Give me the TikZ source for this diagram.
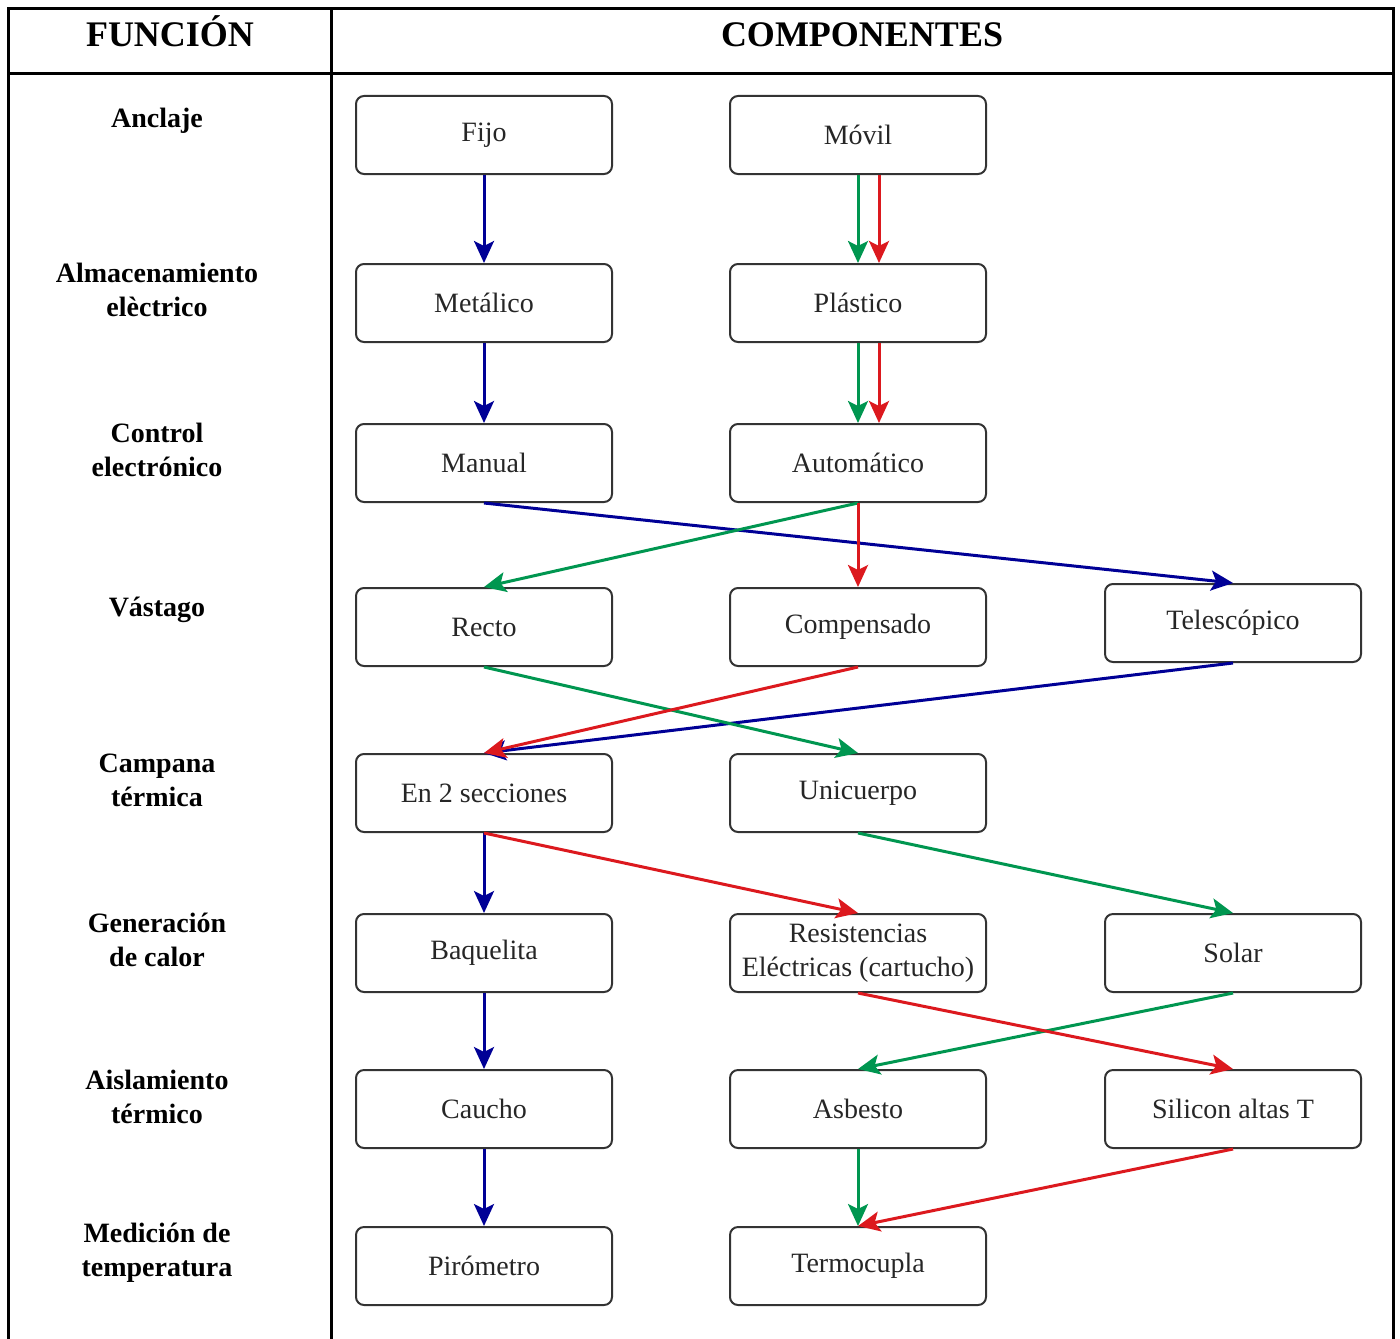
\documentclass[tikz,border=0pt]{standalone}
\usepackage{fontspec}
\setmainfont{Liberation Serif}
\usetikzlibrary{arrows.meta}
\definecolor{azul}{RGB}{0,0,150}
\definecolor{verde}{RGB}{0,150,80}
\definecolor{rojo}{RGB}{220,25,30}
\tikzset{
  comp/.style={draw=black!80, line width=1pt, rounded corners=4pt,
    minimum width=128pt, minimum height=39pt, inner sep=0pt, align=center,
    font=\fontsize{14}{17}\selectfont, text=black!85},
  func/.style={align=center, font=\bfseries\fontsize{14}{17}\selectfont},
  titulo/.style={anchor=base, font=\bfseries\fontsize{18}{20}\selectfont},
  flecha/.style={line width=1.5pt, -{Stealth[length=11pt,width=10pt,inset=2.5pt]}},
}

\begin{document}
\begin{tikzpicture}[x=0.5pt, y=-0.5pt]
            \useasboundingbox (0,0) rectangle (1400,1338);
            % tabla
            \draw[line width=1.5pt] (8,1345) -- (8,9) -- (1393,9) -- (1393,1345);
            \draw[line width=1.5pt] (8,74) -- (1393,74);
            \draw[line width=1.5pt] (331,9) -- (331,1345);
            \node[titulo] (tfun) at (170,47) {FUNCIÓN};
            \node[titulo] (tcomp) at (862,47) {COMPONENTES};

            \foreach \y/\t [count=\i] in {121/Anclaje, 290/{Almacenamiento\\elèctrico},
                    450/{Control\\electrónico}, 610/Vástago, 780/{Campana\\térmica},
                    940/{Generación\\de calor}, 1097/{Aislamiento\\térmico},
                    1253/{Medición de\\temperatura}} {
                    \node[func] (f\i) at (157,\y) {\t};
                }

            % componentes
            \node[comp] (fijo) at (484,135) {Fijo};
            \node[comp] (movil) at (858,135) {Móvil};
            \node[comp] (metalico) at (484,303) {Metálico};
            \node[comp] (plastico) at (858,303) {Plástico};
            \node[comp] (manual) at (484,463) {Manual};
            \node[comp] (auto) at (858,463) {Automático};
            \node[comp] (recto) at (484,627) {Recto};
            \node[comp] (compensado) at (858,627) {Compensado};
            \node[comp] (telescopico) at (1233,623) {Telescópico};
            \node[comp] (dossec) at (484,793) {En 2 secciones};
            \node[comp] (unicuerpo) at (858,793) {Unicuerpo};
            \node[comp] (baquelita) at (484,953) {Baquelita};
            \node[comp] (resistencias) at (858,953) {Resistencias\\Eléctricas (cartucho)};
            \node[comp] (solar) at (1233,953) {Solar};
            \node[comp] (caucho) at (484,1109) {Caucho};
            \node[comp] (asbesto) at (858,1109) {Asbesto};
            \node[comp] (silicon) at (1233,1109) {Silicon altas T};
            \node[comp] (pirometro) at (484,1266) {Pirómetro};
            \node[comp] (termocupla) at (858,1266) {Termocupla};

            % azul
            \draw[flecha, azul] (fijo.south) -- (metalico.north);
            \draw[flecha, azul] (metalico.south) -- (manual.north);
            \draw[flecha, azul] (manual.south) -- (telescopico.north);
            \draw[flecha, azul] (telescopico.south) -- (dossec.north);
            \draw[flecha, azul] (dossec.south) -- (baquelita.north);
            \draw[flecha, azul] (baquelita.south) -- (caucho.north);
            \draw[flecha, azul] (caucho.south) -- (pirometro.north);
            % verde
            \draw[flecha, verde] (movil.south) -- (plastico.north);
            \draw[flecha, verde] (plastico.south) -- (auto.north);
            \draw[flecha, verde] (auto.south) -- (recto.north);
            \draw[flecha, verde] (recto.south) -- (unicuerpo.north);
            \draw[flecha, verde] (unicuerpo.south) -- (solar.north);
            \draw[flecha, verde] (solar.south) -- (asbesto.north);
            \draw[flecha, verde] (asbesto.south) -- (termocupla.north);
            % rojo
            \draw[flecha, rojo] ([xshift=10.5pt]movil.south) -- ([xshift=10.5pt]plastico.north);
            \draw[flecha, rojo] ([xshift=10.5pt]plastico.south) -- ([xshift=10.5pt]auto.north);
            \draw[flecha, rojo] (auto.south) -- (compensado.north);
            \draw[flecha, rojo] (compensado.south) -- (dossec.north);
            \draw[flecha, rojo] (dossec.south) -- (resistencias.north);
            \draw[flecha, rojo] (resistencias.south) -- (silicon.north);
            \draw[flecha, rojo] (silicon.south) -- (termocupla.north);
        \end{tikzpicture}
\end{document}
